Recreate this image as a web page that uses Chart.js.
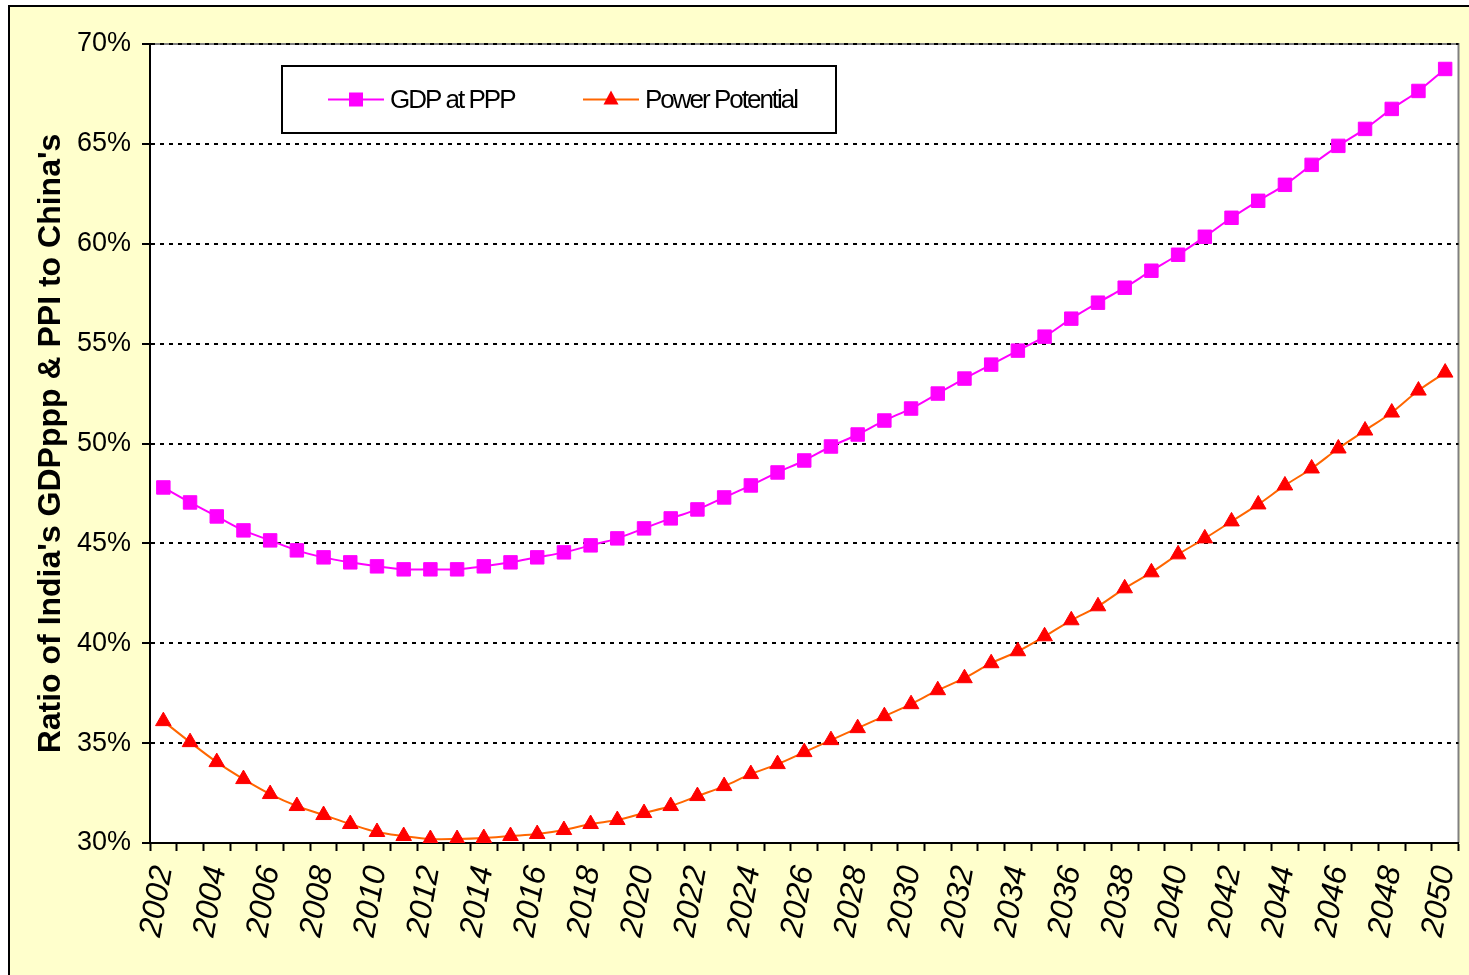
<!DOCTYPE html>
<html lang="en">
<head>
  <meta charset="UTF-8">
  <title>India / China ratio</title>
  <script src="https://cdn.jsdelivr.net/npm/chart.js"></script>
  <style>
    html, body {
      margin: 0;
      padding: 0;
      background: #fff;
      overflow: hidden;
    }

    .marco {
      position: absolute;
      left: 8px;
      top: 5px;
      width: 1480px;
      height: 990px;
      border: 2px solid #000;
      background: #FFFFCC;
    }

    #grafico {
      position: absolute;
      left: 0;
      top: 0;
    }
  </style>
</head>
<body>

  <div class="marco"></div>
  <canvas id="grafico" width="1469" height="975"></canvas>

  <script>
    const years = [
      '2002', '2003', '2004', '2005', '2006', '2007', '2008', '2009', '2010', '2011',
      '2012', '2013', '2014', '2015', '2016', '2017', '2018', '2019', '2020', '2021',
      '2022', '2023', '2024', '2025', '2026', '2027', '2028', '2029', '2030', '2031',
      '2032', '2033', '2034', '2035', '2036', '2037', '2038', '2039', '2040', '2041',
      '2042', '2043', '2044', '2045', '2046', '2047', '2048', '2049', '2050'
    ];

    // ratio India / China, in %
    const gdpAtPPP = [
      47.8, 47.05, 46.35, 45.65, 45.15, 44.65, 44.3, 44.05, 43.85, 43.7,
      43.7, 43.7, 43.85, 44.05, 44.3, 44.55, 44.9, 45.25, 45.75, 46.25,
      46.7, 47.3, 47.9, 48.55, 49.15, 49.85, 50.45, 51.15, 51.75, 52.5,
      53.25, 53.95, 54.65, 55.35, 56.25, 57.05, 57.8, 58.65, 59.45, 60.35,
      61.3, 62.15, 62.95, 63.95, 64.9, 65.75, 66.75, 67.65, 68.75
    ];

    const powerPotential = [
      36.1, 35.05, 34.05, 33.2, 32.45, 31.85, 31.4, 30.95, 30.55, 30.35,
      30.2, 30.2, 30.25, 30.35, 30.45, 30.65, 30.95, 31.15, 31.5, 31.85,
      32.35, 32.85, 33.45, 33.95, 34.55, 35.15, 35.75, 36.35, 36.95, 37.65,
      38.25, 39.0, 39.6, 40.35, 41.15, 41.85, 42.75, 43.55, 44.45, 45.25,
      46.1, 46.95, 47.9, 48.75, 49.75, 50.65, 51.55, 52.65, 53.55
    ];

    const yMin = 30;
    const yMax = 70;
    const yStep = 5;

    const fuente = "'Liberation Sans', Arial, sans-serif";
    Chart.defaults.font.family = fuente;
    Chart.defaults.color = '#000';

    // white plot area with grey top/right edges
    const fondoPlot = {
      id: 'fondoPlot',
      beforeDraw(chart) {
        const { ctx, chartArea: a } = chart;
        ctx.save();
        ctx.fillStyle = '#fff';
        ctx.fillRect(a.left, a.top, a.right - a.left, a.bottom - a.top);
        ctx.strokeStyle = '#808080';
        ctx.lineWidth = 2;
        ctx.beginPath();
        ctx.moveTo(a.left, a.top);
        ctx.lineTo(a.right, a.top);
        ctx.lineTo(a.right, a.bottom);
        ctx.stroke();
        ctx.restore();
      }
    };

    // boxed legend inside the plot, like the original
    const leyenda = {
      id: 'leyenda',
      afterDraw(chart) {
        const { ctx, chartArea: a } = chart;
        const x0 = a.left + 132, y0 = a.top + 22, w = 554, h = 67;
        const yc = y0 + h / 2;
        ctx.save();
        ctx.fillStyle = '#fff';
        ctx.fillRect(x0, y0, w, h);
        ctx.strokeStyle = '#000';
        ctx.lineWidth = 2;
        ctx.strokeRect(x0, y0, w, h);

        const items = [
          { x: x0 + 46, ds: chart.data.datasets[0] },
          { x: x0 + 301, ds: chart.data.datasets[1] }
        ];
        items.forEach(({ x, ds }) => {
          ctx.strokeStyle = ds.borderColor;
          ctx.lineWidth = 2;
          ctx.beginPath();
          ctx.moveTo(x, yc);
          ctx.lineTo(x + 56, yc);
          ctx.stroke();
          ctx.fillStyle = ds.pointBackgroundColor;
          const mx = x + 28;
          if (ds.pointStyle === 'rect') {
            ctx.fillRect(mx - 7, yc - 7, 14, 14);
          } else {
            ctx.beginPath();
            ctx.moveTo(mx, yc - 9);
            ctx.lineTo(mx + 7.5, yc + 5);
            ctx.lineTo(mx - 7.5, yc + 5);
            ctx.closePath();
            ctx.fill();
          }
          ctx.fillStyle = '#000';
          ctx.font = '26px ' + fuente;
          ctx.letterSpacing = '-2px';
          ctx.textBaseline = 'middle';
          ctx.textAlign = 'left';
          ctx.fillText(ds.label, x + 62, yc + 1);
        });
        ctx.restore();
      }
    };

    new Chart(document.getElementById('grafico'), {
      type: 'line',
      data: {
        labels: years,
        datasets: [
          {
            label: 'GDP at PPP',
            data: gdpAtPPP,
            borderColor: '#FF00FF',
            borderWidth: 2,
            pointStyle: 'rect',
            pointRadius: 9.5,
            pointBackgroundColor: '#FF00FF',
            pointBorderColor: '#FF00FF',
            pointBorderWidth: 1,
            tension: 0.35,
            fill: false
          },
          {
            label: 'Power Potential',
            data: powerPotential,
            borderColor: '#FF6600',
            borderWidth: 2,
            pointStyle: 'triangle',
            pointRadius: 9,
            pointBackgroundColor: '#FF0000',
            pointBorderColor: '#FF0000',
            pointBorderWidth: 1,
            tension: 0.35,
            fill: false
          }
        ]
      },
      options: {
        responsive: false,
        animation: false,
        layout: { padding: { left: 32, top: 44, right: 9, bottom: 0 } },
        plugins: {
          legend: { display: false },
          tooltip: { enabled: false }
        },
        scales: {
          x: {
            type: 'category',
            offset: true,
            grid: {
              offset: true,
              drawOnChartArea: false,
              drawTicks: true,
              tickLength: 8,
              tickColor: '#000',
              tickWidth: 2
            },
            border: { color: '#000', width: 2 },
            ticks: {
              autoSkip: false,
              minRotation: 80,
              maxRotation: 80,
              padding: 12,
              color: '#000',
              font: { size: 32, style: 'italic' },
              callback: (v, i) => (i % 2 === 0 ? years[i] : '')
            },
            afterFit: (s) => {
              s.height = 132;
              s.paddingLeft = 0;
              s.paddingRight = 0;
            }
          },
          y: {
            min: yMin,
            max: yMax,
            grid: {
              color: '#000',
              lineWidth: 2,
              tickLength: 8,
              tickColor: '#000',
              tickWidth: 2
            },
            border: { color: '#000', width: 2, dash: [4, 5] },
            ticks: {
              stepSize: yStep,
              padding: 11,
              color: '#000',
              font: { size: 27 },
              callback: (v) => v + '%'
            },
            title: {
              display: true,
              text: "Ratio of India's GDPppp & PPI to China's",
              color: '#000',
              font: { size: 32, weight: 'bold' },
              padding: { top: 0, bottom: 0 }
            },
            afterFit: (s) => { s.width = 118; }
          }
        }
      },
      plugins: [fondoPlot, leyenda]
    });
  </script>

</body>
</html>
